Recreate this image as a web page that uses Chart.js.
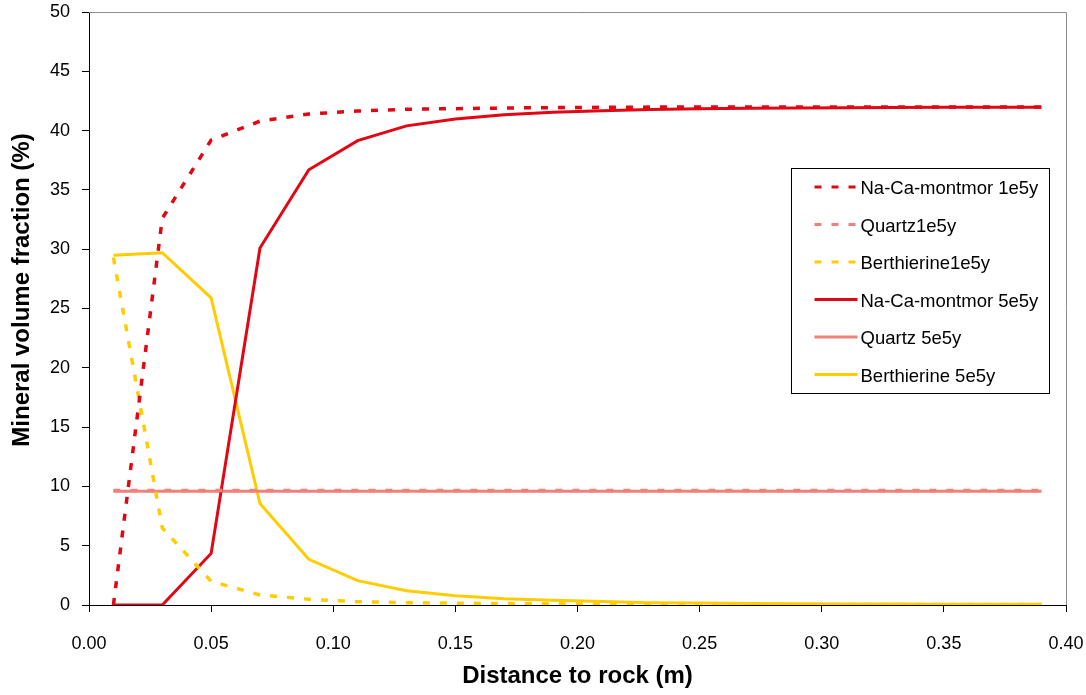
<!DOCTYPE html>
<html>
<head>
<meta charset="utf-8">
<title>Mineral volume fraction vs distance to rock</title>
<script src="https://cdn.jsdelivr.net/npm/chart.js@4.4.1/dist/chart.umd.min.js"></script>
<style>
  html, body { margin: 0; padding: 0; background: #fff; }
  #wrap { position: relative; width: 1086px; height: 695px; }
</style>
</head>
<body>
<div id="wrap"><canvas id="mineralChart"></canvas></div>
<script>
// distance to rock (m), one value per grid cell
const distance = [0.01, 0.03, 0.05, 0.07, 0.09, 0.11, 0.13, 0.15, 0.17, 0.19,
                  0.21, 0.23, 0.25, 0.27, 0.29, 0.31, 0.33, 0.35, 0.37, 0.39];

// volume fraction (%) after 1e5 years
const naCaMont1e5 = [0, 32.6, 39.2, 40.8, 41.4, 41.65, 41.8, 41.85, 41.9, 41.94,
                     41.96, 41.98, 42.0, 42.0, 42.0, 42.0, 42.0, 42.0, 42.0, 42.0];
const quartz1e5 = [9.65, 9.65, 9.65, 9.65, 9.65, 9.65, 9.65, 9.65, 9.65, 9.65,
                   9.65, 9.65, 9.65, 9.65, 9.65, 9.65, 9.65, 9.65, 9.65, 9.65];
const berthierine1e5 = [29.3, 6.5, 2.0, 0.85, 0.48, 0.28, 0.2, 0.15, 0.12, 0.1,
                        0.08, 0.07, 0.06, 0.06, 0.05, 0.05, 0.05, 0.05, 0.05, 0.05];

// volume fraction (%) after 5e5 years
const naCaMont5e5 = [0, 0, 4.35, 30.1, 36.7, 39.15, 40.4, 40.98, 41.34, 41.54,
                     41.68, 41.78, 41.84, 41.88, 41.91, 41.93, 41.95, 41.96, 41.97, 41.97];
const quartz5e5 = [9.6, 9.6, 9.6, 9.6, 9.6, 9.6, 9.6, 9.6, 9.6, 9.6,
                   9.6, 9.6, 9.6, 9.6, 9.6, 9.6, 9.6, 9.6, 9.6, 9.6];
const berthierine5e5 = [29.5, 29.7, 25.9, 8.55, 3.85, 2.05, 1.2, 0.78, 0.53, 0.4,
                        0.29, 0.2, 0.16, 0.13, 0.11, 0.09, 0.08, 0.07, 0.06, 0.06];

const RED = 'rgb(227, 6, 19)';
const SALMON = 'rgb(240, 128, 122)';
const YELLOW = 'rgb(255, 204, 0)';
const DASH = [7, 10];

Chart.defaults.font.family = '"Liberation Sans", Arial, sans-serif';
Chart.defaults.color = '#000';

function points(values) {
  return values.map((v, i) => ({ x: distance[i], y: v }));
}

function series(label, values, color, dashed) {
  return {
    label: label,
    data: points(values),
    borderColor: color,
    backgroundColor: color,
    borderWidth: dashed ? 3.5 : 3,
    borderDash: dashed ? DASH : [],
    borderCapStyle: 'butt',
    pointRadius: 0,
    tension: 0,
    fill: false
  };
}

// gray frame on top/right, boxed legend and the rotated y title
const chartDecor = {
  id: 'chartDecor',
  beforeDatasetsDraw(chart) {
    const { ctx, chartArea: a } = chart;
    ctx.save();
    ctx.strokeStyle = '#8c8c8c';
    ctx.lineWidth = 1;
    ctx.beginPath();
    ctx.moveTo(a.left, a.top + 0.5);
    ctx.lineTo(a.right + 0.5, a.top + 0.5);
    ctx.lineTo(a.right + 0.5, a.bottom);
    ctx.stroke();
    ctx.restore();
  },
  afterDraw(chart) {
    const { ctx, chartArea: a } = chart;
    ctx.save();

    // y axis title
    ctx.font = 'bold 24px "Liberation Sans", Arial, sans-serif';
    ctx.fillStyle = '#000';
    ctx.textAlign = 'center';
    ctx.textBaseline = 'middle';
    ctx.translate(22, a.top + 278);
    ctx.rotate(-Math.PI / 2);
    ctx.fillText('Mineral volume fraction (%)', 0, 0);
    ctx.setTransform(1, 0, 0, 1, 0, 0);

    // legend box
    const boxLeft = a.right - 274.5, boxTop = a.top + 156.5;
    const boxW = 258, boxH = 225, rowH = 37.5;
    ctx.fillStyle = '#fff';
    ctx.fillRect(boxLeft, boxTop, boxW, boxH);
    ctx.strokeStyle = '#000';
    ctx.lineWidth = 1;
    ctx.strokeRect(boxLeft, boxTop, boxW, boxH);

    ctx.font = '18.5px "Liberation Sans", Arial, sans-serif';
    ctx.textAlign = 'left';
    ctx.textBaseline = 'middle';
    chart.data.datasets.forEach((ds, i) => {
      const y = boxTop + 18.5 + i * rowH;
      ctx.strokeStyle = ds.borderColor;
      ctx.lineWidth = 3;
      ctx.lineCap = 'butt';
      ctx.setLineDash(ds.borderDash);
      ctx.beginPath();
      ctx.moveTo(boxLeft + 23, y);
      ctx.lineTo(boxLeft + 66, y);
      ctx.stroke();
      ctx.setLineDash([]);
      ctx.fillStyle = '#000';
      ctx.fillText(ds.label, boxLeft + 69, y + 2);
    });
    ctx.restore();
  }
};

new Chart(document.getElementById('mineralChart'), {
  type: 'line',
  data: {
    datasets: [
      series('Na-Ca-montmor 1e5y', naCaMont1e5, RED, true),
      series('Quartz1e5y', quartz1e5, SALMON, true),
      series('Berthierine1e5y', berthierine1e5, YELLOW, true),
      series('Na-Ca-montmor 5e5y', naCaMont5e5, RED, false),
      series('Quartz 5e5y', quartz5e5, SALMON, false),
      series('Berthierine 5e5y', berthierine5e5, YELLOW, false)
    ]
  },
  options: {
    responsive: true,
    maintainAspectRatio: false,
    animation: false,
    layout: {
      padding: { left: 0, right: 20, top: 12, bottom: 0 }
    },
    plugins: {
      legend: { display: false },
      tooltip: { enabled: false }
    },
    scales: {
      x: {
        type: 'linear',
        min: 0,
        max: 0.4,
        afterFit: (scale) => {
          scale.height = 90;
          scale.paddingLeft = 0;
          scale.paddingRight = 0;
        },
        ticks: {
          stepSize: 0.05,
          padding: 21,
          font: { size: 18 },
          maxRotation: 0,
          callback: (v) => v.toFixed(2)
        },
        grid: { drawOnChartArea: false, drawTicks: true, tickLength: 7, color: '#000' },
        border: { color: '#000', width: 1 },
        title: {
          display: true,
          text: 'Distance to rock (m)',
          font: { size: 24, weight: 'bold' },
          padding: { top: 0, bottom: 4 }
        }
      },
      y: {
        min: 0,
        max: 50,
        afterFit: (scale) => {
          scale.width = 89;
          scale.paddingTop = 0;
          scale.paddingBottom = 0;
        },
        ticks: {
          stepSize: 5,
          padding: 12,
          font: { size: 18 }
        },
        grid: { drawOnChartArea: false, drawTicks: true, tickLength: 7, color: '#000' },
        border: { color: '#000', width: 1 }
      }
    }
  },
  plugins: [chartDecor]
});
</script>
</body>
</html>
